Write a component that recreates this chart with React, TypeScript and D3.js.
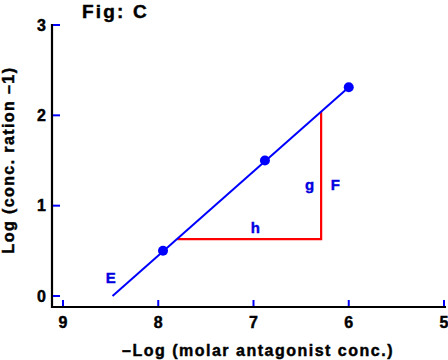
import React from "react";
import * as d3 from "d3";

const pointX = [7.95, 6.88, 6.0];
const pointY = [0.5, 1.5, 2.31];
const fitX = [8.48, 6.0];
const fitY = [0, 2.31];
const triX = [7.8, 6.29, 6.29];
const triY = [0.63, 0.63, 2.04];
const xTicks = [9, 8, 7, 6, 5];
const yTicks = [0, 1, 2, 3];
const labels = [
  { text: "E", x: 8.55, y: 0.14 },
  { text: "g", x: 6.46, y: 1.17 },
  { text: "F", x: 6.19, y: 1.17 },
  { text: "h", x: 7.03, y: 0.7 },
];

const W = 448;
const H = 360;
const FONT = "'Liberation Sans', Arial, Helvetica, sans-serif";
const BLUE = "#0000ff";

export default function App() {
  const x = d3.scaleLinear().domain([9, 5]).range([63, 444]);
  const y = d3.scaleLinear().domain([0, 3]).range([296, 25]);
  const axisLeft = 52;
  const axisBottom = 307;

  const fitLine = d3
    .line<number>()
    .x((_, i) => x(fitX[i]))
    .y((_, i) => y(fitY[i]));
  const triLine = d3
    .line<number>()
    .x((_, i) => x(triX[i]))
    .y((_, i) => y(triY[i]));

  const heavy = { stroke: "#000", strokeWidth: 0.45 };

  return (
    <svg
      width={W}
      height={H}
      style={{ position: "absolute", left: 0, top: 0, display: "block", background: "#fff" }}
      fontFamily={FONT}
      fontWeight="bold"
    >
      <rect width={W} height={H} fill="#fff" />
      {/* title */}
      <text x={82} y={17.5} fontSize={19} letterSpacing={2.2} fill="#000" {...heavy}>
        Fig: C
      </text>
      {/* axes */}
      <path
        d={`M${axisLeft},${y(3) - 1}V${axisBottom}H${x(5) + 2}`}
        fill="none"
        stroke="#000"
        strokeWidth={2.2}
      />
      {yTicks.map((t) => (
        <g key={"y" + t}>
          <line x1={axisLeft + 1} x2={axisLeft + 8} y1={y(t)} y2={y(t)} stroke={BLUE} strokeWidth={2} />
          <text x={46} y={y(t)} dy="0.36em" textAnchor="end" fontSize={16} fill="#000" {...heavy}>
            {t}
          </text>
        </g>
      ))}
      {xTicks.map((t) => (
        <g key={"x" + t}>
          <line x1={x(t)} x2={x(t)} y1={axisBottom - 1} y2={axisBottom - 7} stroke={BLUE} strokeWidth={2} />
          <text x={x(t)} y={328} textAnchor="middle" fontSize={16} fill="#000" {...heavy}>
            {t}
          </text>
        </g>
      ))}
      {/* axis labels */}
      <text
        x={258}
        y={356}
        textAnchor="middle"
        fontSize={16}
        letterSpacing={1.5}
        fill="#000"
        {...heavy}
      >
        –Log (molar antagonist conc.)
      </text>
      <text
        transform={`translate(14,160) rotate(-90)`}
        textAnchor="middle"
        fontSize={16}
        letterSpacing={1.4}
        fill="#000"
        {...heavy}
      >
        Log (conc. ration –1)
      </text>
      {/* red triangle */}
      <path d={triLine(triX) || ""} fill="none" stroke="#ff0000" strokeWidth={2.2} />
      {/* fit line */}
      <path d={fitLine(fitX) || ""} fill="none" stroke={BLUE} strokeWidth={2} />
      {pointX.map((px, i) => (
        <circle key={i} cx={x(px)} cy={y(pointY[i])} r={5} fill={BLUE} />
      ))}
      {labels.map((l) => (
        <text
          key={l.text}
          x={x(l.x)}
          y={y(l.y)}
          fontSize={15}
          fill="#0000e0"
          stroke="#0000e0"
          strokeWidth={0.4}
        >
          {l.text}
        </text>
      ))}
    </svg>
  );
}
